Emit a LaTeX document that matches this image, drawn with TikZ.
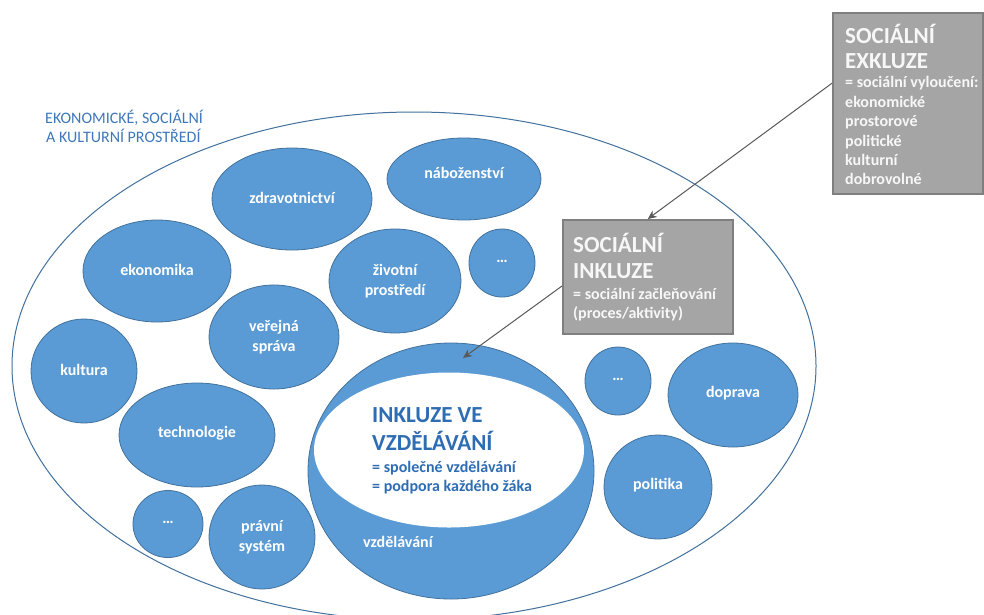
\documentclass[tikz,border=0pt]{standalone}
\usepackage{fontspec}
\setmainfont{Carlito}
\usetikzlibrary{shapes.geometric,arrows.meta,calc}
\definecolor{blobfill}{HTML}{5B9BD5}
\definecolor{blobline}{HTML}{41719C}
\definecolor{envline}{HTML}{41719C}
\definecolor{titleblue}{HTML}{3F78BA}
\definecolor{inkblue}{HTML}{2E6DB4}
\definecolor{boxfill}{HTML}{A5A5A5}
\definecolor{boxline}{HTML}{7F7F7F}
\definecolor{arrowgray}{HTML}{595959}
\definecolor{boxtext}{HTML}{F7F7F7}
\begin{document}
\begin{tikzpicture}[x=1pt,y=-1pt,
  blob/.style 2 args={ellipse, fill=blobfill, draw=blobline, line width=0.8pt,
    minimum width=#1, minimum height=#2, inner sep=0pt},
  labone/.style={text=white, font=\fontsize{16}{19.5}\selectfont\bfseries,
    anchor=base, yshift=1.5pt, inner sep=0pt},
  labtwo/.style={text=white, font=\fontsize{16}{19.5}\selectfont\bfseries,
    align=center, anchor=center, inner sep=0pt},
  graybox/.style={rectangle, fill=boxfill, draw=boxline, line width=1.5pt,
    anchor=north west, inner sep=0pt},
  boxhead/.style={text=boxtext, font=\fontsize{23}{27}\selectfont\bfseries,
    anchor=base west, inner sep=0pt},
  boxbody/.style={text=boxtext, font=\fontsize{16}{19.5}\selectfont\bfseries,
    anchor=base west, inner sep=0pt},
  inkhead/.style={text=inkblue, font=\fontsize{23}{27}\selectfont\bfseries,
    anchor=base west, inner sep=0pt},
  inkbody/.style={text=inkblue, font=\fontsize{16}{19.5}\selectfont\bfseries,
    anchor=base west, inner sep=0pt},
  titletext/.style={text=titleblue, font=\fontsize{16}{19}\selectfont,
    anchor=base west, inner sep=0pt},
  arr/.style={draw=arrowgray, line width=1pt,
    -{Stealth[length=9pt,width=8pt,fill=arrowgray]}}
]
\fill[white] (0,0) rectangle (984,614);
\useasboundingbox (0,0) rectangle (984,614);

% environment
\node[ellipse, draw=envline, line width=1pt, minimum width=804pt,
  minimum height=508pt, inner sep=0pt] (env) at (414,366) {};
\node[titletext] (t1) at (45,123) {EKONOMICKÉ, SOCIÁLNÍ};
\node[titletext] (t2) at (46,142) {A KULTURNÍ PROSTŘEDÍ};

% sectors
\node[blob={160pt}{102pt}, label={[labone]center:zdravotnictví}] (zdrav) at (292,199) {};
\node[blob={154pt}{82pt}, label={[labone, yshift=5pt]center:náboženství}] (nab) at (464,179) {};
\node[blob={148pt}{102pt}, label={[labone]center:ekonomika}] (ekon) at (157,271) {};
\node[blob={132pt}{104pt}, label={[labtwo]center:{životní\\prostředí}}] (ziv) at (395,281) {};
\node[blob={66pt}{68pt}, label={[labone]center:…}] (dots1) at (502,263) {};
\node[blob={130pt}{104pt}, label={[labtwo]center:{veřejná\\správa}}] (ver) at (274,337) {};
\node[blob={106pt}{104pt}, label={[labone]center:kultura}] (kult) at (84,371) {};
\node[blob={156pt}{104pt}, label={[labone]center:technologie}] (tech) at (197,435) {};
\node[blob={70pt}{67pt}, label={[labone]center:…}] (dots2) at (168,524) {};
\node[blob={106pt}{104pt}, label={[labtwo]center:{právní\\systém}}] (prav) at (262,537) {};
\node[blob={66pt}{68pt}, label={[labone]center:…}] (dots3) at (618,381) {};
\node[blob={130pt}{104pt}, label={[labone]center:doprava}] (dopr) at (733,395) {};
\node[blob={108pt}{104pt}, label={[labone]center:politika}] (pol) at (658,487) {};

% education
\node[blob={286pt}{256pt}] (vzd) at (451,471) {};
\node[ellipse, fill=white, draw=none, minimum width=270pt, minimum height=155pt,
  inner sep=0pt] (ink) at (449,450) {};
\node[text=white, font=\fontsize{16}{19.5}\selectfont\bfseries, anchor=base west,
  inner sep=0pt] (vzdl) at (363,547) {vzdělávání};
\node[inkhead] (i1) at (372,422) {INKLUZE VE};
\node[inkhead] (i2) at (372,450) {VZDĚLÁVÁNÍ};
\node[inkbody] (i3) at (372,472) {= společné vzdělávání};
\node[inkbody] (i4) at (372,491) {= podpora každého žáka};

% social exclusion box
\node[graybox, minimum width=150pt, minimum height=181pt] (exkl) at (832,12) {};
\node[boxhead] (e1) at (845,43) {SOCIÁLNÍ};
\node[boxhead] (e2) at (845,68) {EXKLUZE};
\node[boxbody] (e3) at (845,87) {= sociální vyloučení:};
\node[boxbody] (e4) at (845,107) {ekonomické};
\node[boxbody] (e5) at (845,126) {prostorové};
\node[boxbody] (e6) at (845,146) {politické};
\node[boxbody] (e7) at (845,165) {kulturní};
\node[boxbody] (e8) at (845,184) {dobrovolné};

% social inclusion box
\node[graybox, minimum width=170pt, minimum height=114pt] (inkl) at (562,219) {};
\node[boxhead] (n1) at (573,252) {SOCIÁLNÍ};
\node[boxhead] (n2) at (573,278) {INKLUZE};
\node[boxbody] (n3) at (573,299) {= sociální začleňování};
\node[boxbody] (n4) at (573,318) {(proces/aktivity)};

% connectors
\coordinate (tip2) at (463,358);
\draw[arr] ($(exkl.north west)!0.39!(exkl.south west)$) -- (inkl.north);
\draw[arr] ($(inkl.north west)!0.58!(inkl.south west)$) -- (tip2);
\end{tikzpicture}
\end{document}
